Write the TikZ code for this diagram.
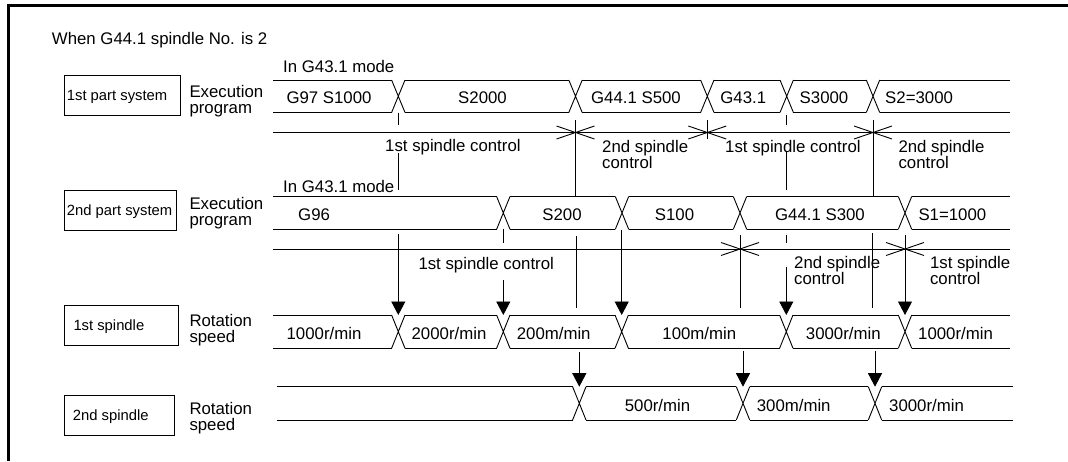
\documentclass[tikz,border=0pt]{standalone}
\usepackage{fontspec}
\setmainfont{Liberation Sans}
\usetikzlibrary{arrows.meta}
\newcommand\hw{6.7}
\newcommand\mainsz{\fontsize{16.8}{20}\selectfont}
\newcommand\boxsz{\fontsize{14.8}{18}\selectfont}
% timing row: start, end, top, bottom, transitions
\newcommand\trow[5]{%
  \foreach \tx [remember=\tx as \px (initially #1-\hw)] in {#5,#2+\hw}{%
    \draw[sig] (\px+\hw,#3) -- (\tx-\hw,#3) (\px+\hw,#4) -- (\tx-\hw,#4);
  }%
  \foreach \tx in {#5}{%
    \draw[sig] (\tx-\hw,#3) -- (\tx+\hw,#4) (\tx-\hw,#4) -- (\tx+\hw,#3);
  }%
}
\newcommand\xstar[1]{%
  \draw[sig] (#1) +(-19,-6.5) -- +(19,6.5) +(-19,6.5) -- +(19,-6.5);
}
\tikzset{
  sig/.style={line width=0.9pt, line cap=butt},
  frame/.style={line width=2.6pt},
  lbl/.style={font=\mainsz, inner sep=0pt, anchor=base west},
  lblc/.style={font=\mainsz, inner sep=0pt, anchor=base},
  boxlbl/.style={font=\boxsz, inner sep=0pt, anchor=base west},
  boxn/.style={draw, line width=0.9pt, inner sep=0pt},
  arr/.style={line width=0.9pt, -{Triangle[width=14pt,length=13.5pt]}},
}
\begin{document}
\begin{tikzpicture}[x=1pt,y=-1pt]
\useasboundingbox (0,0) rectangle (1068,461);
% frame (top and left only)
\coordinate (fa) at (8.3,461);
\coordinate (fb) at (8.3,5.3);
\coordinate (fc) at (1068,5.3);
\draw[frame] (fa) -- (fb) -- (fc);

% title
\node[lbl] (title) at (51.7,44.3) {When G44.1 spindle No. is 2};

% boxes
\node[boxn, minimum width=116pt, minimum height=40pt] (box1) at (122,95) {};
\node[boxn, minimum width=112pt, minimum height=40pt] (box2) at (120,210) {};
\node[boxn, minimum width=114pt, minimum height=40pt] (box3) at (121,325) {};
\node[boxn, minimum width=110pt, minimum height=40pt] (box4) at (119,415) {};
\node[boxlbl] (box1t) at (66.7,100.3) {1st part system};
\node[boxlbl] (box2t) at (66.7,215.3) {2nd part system};
\node[boxlbl] (box3t) at (73.3,330.3) {1st spindle};
\node[boxlbl] (box4t) at (72.7,420.3) {2nd spindle};

% row titles
\node[lbl] (ex1a) at (189.3,97.5) {Execution};
\node[lbl] (ex1b) at (189.3,113.5) {program};
\node[lbl] (ex2a) at (189.3,209.3) {Execution};
\node[lbl] (ex2b) at (189.3,225.3) {program};
\node[lbl] (rs1a) at (189.3,326) {Rotation};
\node[lbl] (rs1b) at (189.3,342) {speed};
\node[lbl] (rs2a) at (189.3,414.3) {Rotation};
\node[lbl] (rs2b) at (189.3,430.3) {speed};

\node[lbl] (mode1) at (283,72) {In G43.1 mode};
\node[lbl] (mode2) at (283,192) {In G43.1 mode};

% timing bands
\trow{273}{1010}{80}{112.5}{398.3,575.5,707.3,786.7,873}
\trow{273}{1010}{196.5}{229.3}{503.3,622,740,905}
\trow{273}{1010}{315}{348.3}{398.3,503.3,621.7,786.3,905}
\trow{277}{1013}{386.7}{420}{579.3,743,875}

% control lines
\coordinate (c1a) at (273,132.5); \coordinate (c1b) at (1010,132.5);
\coordinate (c2a) at (273,249);   \coordinate (c2b) at (1010,249);
\draw[sig] (c1a) -- (c1b);
\draw[sig] (c2a) -- (c2b);

% row 1 texts
\node[lblc] (r1a) at (329,103.8) {G97 S1000};
\node[lblc] (r1b) at (482.5,103.8) {S2000};
\node[lblc] (r1c) at (636,103.8) {G44.1 S500};
\node[lblc] (r1d) at (743.3,103.8) {G43.1};
\node[lblc] (r1e) at (824,103.8) {S3000};
\node[lbl]  (r1f) at (885,103.8) {S2=3000};

% row 2 texts
\node[lbl]  (r2a) at (298,220) {G96};
\node[lblc] (r2b) at (562,220) {S200};
\node[lblc] (r2c) at (674.5,220) {S100};
\node[lblc] (r2d) at (820,220) {G44.1 S300};
\node[lbl]  (r2e) at (918.3,220) {S1=1000};

% row 3 texts
\node[lblc] (r3a) at (324,339.5) {1000r/min};
\node[lblc] (r3b) at (449,339.5) {2000r/min};
\node[lblc] (r3c) at (553.7,339.5) {200m/min};
\node[lblc] (r3d) at (699.3,339.5) {100m/min};
\node[lblc] (r3e) at (843.3,339.5) {3000r/min};
\node[lbl]  (r3f) at (918,339.5) {1000r/min};

% row 4 texts
\node[lblc] (r4a) at (657.5,411) {500r/min};
\node[lblc] (r4b) at (793.7,411) {300m/min};
\node[lbl]  (r4c) at (889,411) {3000r/min};

% labels between rows 1 and 2
\node[lbl] (l1) at (385,151.5) {1st spindle control};
\node[lbl] (l2a) at (602,152) {2nd spindle};
\node[lbl] (l2b) at (602,168) {control};
\node[lbl] (l3) at (725,152.5) {1st spindle control};
\node[lbl] (l4a) at (898.3,152.7) {2nd spindle};
\node[lbl] (l4b) at (898.3,168.7) {control};

% labels between rows 2 and 3
\node[lbl] (l5) at (418.3,269.3) {1st spindle control};
\node[lbl] (l6a) at (794,268.5) {2nd spindle};
\node[lbl] (l6b) at (794,284.5) {control};
\node[lbl] (l7a) at (929.8,268.5) {1st spindle};
\node[lbl] (l7b) at (929.8,284.5) {control};

% verticals between rows 1 and 2
\coordinate (v1a) at (398.3,112.5); \coordinate (v1b) at (398.3,125);
\coordinate (v1c) at (398.3,153);   \coordinate (v1d) at (398.3,190);
\coordinate (v2a) at (575.5,120);   \coordinate (v2b) at (575.5,196.5);
\coordinate (v3a) at (707.3,120);   \coordinate (v3b) at (707.3,138.5);
\coordinate (v4a) at (786.7,115);   \coordinate (v4b) at (786.7,125);
\coordinate (v4c) at (786.7,151.7); \coordinate (v4d) at (786.7,190);
\coordinate (v5a) at (873,120);     \coordinate (v5b) at (873,196.5);
\draw[sig] (v1a) -- (v1b) (v1c) -- (v1d);
\draw[sig] (v2a) -- (v2b);
\draw[sig] (v3a) -- (v3b);
\draw[sig] (v4a) -- (v4b) (v4c) -- (v4d);
\draw[sig] (v5a) -- (v5b);
\coordinate (s1) at (575.5,132.5);
\coordinate (s2) at (707.3,132.5);
\coordinate (s3) at (873,132.5);
\xstar{s1}\xstar{s2}\xstar{s3}

% verticals between rows 2 and 3
\coordinate (w1a) at (398.3,234);   \coordinate (w1b) at (398.3,315);
\coordinate (w2a) at (503.3,229.3); \coordinate (w2b) at (503.3,242.7);
\coordinate (w2c) at (503.3,280);   \coordinate (w2d) at (503.3,315);
\coordinate (w3a) at (576,236);     \coordinate (w3b) at (576,308.3);
\coordinate (w4a) at (621.7,230);   \coordinate (w4b) at (621.7,315);
\coordinate (w5a) at (740,235);     \coordinate (w5b) at (740,308.3);
\coordinate (w6a) at (786.3,235);   \coordinate (w6b) at (786.3,243.3);
\coordinate (w6c) at (786.3,267);   \coordinate (w6d) at (786.3,315);
\coordinate (w7a) at (872.3,233.3); \coordinate (w7b) at (872.3,308.3);
\coordinate (w8a) at (905,235);     \coordinate (w8b) at (905,315);
\draw[arr] (w1a) -- (w1b);
\draw[sig] (w2a) -- (w2b);
\draw[arr] (w2c) -- (w2d);
\draw[sig] (w3a) -- (w3b);
\draw[arr] (w4a) -- (w4b);
\draw[sig] (w5a) -- (w5b);
\draw[sig] (w6a) -- (w6b);
\draw[arr] (w6c) -- (w6d);
\draw[sig] (w7a) -- (w7b);
\draw[arr] (w8a) -- (w8b);
\coordinate (s4) at (740,249);
\coordinate (s5) at (905,249);
\xstar{s4}\xstar{s5}

% arrows between rows 3 and 4
\coordinate (a1a) at (579.3,351.5); \coordinate (a1b) at (579.3,386.7);
\coordinate (a2a) at (743,351);     \coordinate (a2b) at (743,386.7);
\coordinate (a3a) at (875,351);     \coordinate (a3b) at (875,386.7);
\draw[arr] (a1a) -- (a1b);
\draw[arr] (a2a) -- (a2b);
\draw[arr] (a3a) -- (a3b);
\end{tikzpicture}
\end{document}
